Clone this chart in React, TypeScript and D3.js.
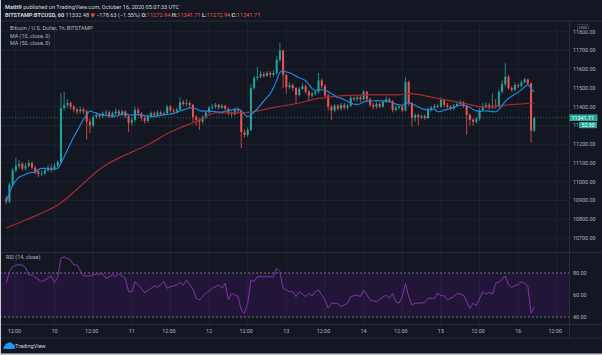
import React from "react";
import * as d3 from "d3";

// hours are counted from Oct 10 2020 00:00, one candle per hour
const firstHour = -15;
const firstOpen = 10910;

const closes = [
  10895, 10985, 11060, 11085, 11095, 11070, 11085, 11100, 11075, 11055,
  11040, 11045, 11060, 11075, 11065, 11085, 11105, 11393, 11410, 11420,
  11400, 11385, 11375, 11385, 11375, 11320, 11300, 11345, 11356, 11350,
  11365, 11370, 11350, 11365, 11375, 11360, 11375, 11350, 11315, 11330,
  11383, 11365, 11340, 11325, 11350, 11365, 11355, 11370, 11360, 11365,
  11400, 11380, 11375, 11385, 11425, 11415, 11420, 11410, 11345, 11330,
  11320, 11345, 11370, 11395, 11400, 11410, 11395, 11405, 11390, 11365,
  11360, 11383, 11380, 11265, 11250, 11276, 11500, 11553, 11560, 11575,
  11565, 11580, 11570, 11580, 11650, 11700, 11570, 11505, 11515, 11500,
  11463, 11495, 11510, 11480, 11460, 11470, 11480, 11540, 11510, 11460,
  11400, 11380, 11405, 11390, 11410, 11395, 11405, 11447, 11440, 11450,
  11440, 11480, 11440, 11410, 11400, 11415, 11400, 11425, 11440, 11430,
  11383, 11395, 11400, 11380, 11532, 11420, 11340, 11356, 11345, 11350,
  11340, 11383, 11395, 11405, 11400, 11436, 11410, 11400, 11390, 11405,
  11415, 11425, 11405, 11356, 11330, 11320, 11335, 11383, 11400, 11410,
  11395, 11405, 11400, 11480, 11520, 11560, 11500, 11490, 11516, 11510,
  11530, 11545, 11525, 11272.94, 11341.71,
];

const highs = [
  10925, 10995, 11075, 11127, 11115, 11105, 11100, 11115, 11110, 11085,
  11065, 11060, 11075, 11090, 11095, 11100, 11115, 11473, 11480, 11440,
  11430, 11410, 11395, 11400, 11395, 11385, 11335, 11356, 11370, 11365,
  11375, 11385, 11380, 11375, 11390, 11385, 11385, 11380, 11355, 11345,
  11400, 11395, 11370, 11350, 11360, 11375, 11375, 11380, 11380, 11375,
  11410, 11410, 11390, 11395, 11450, 11435, 11440, 11430, 11415, 11355,
  11340, 11355, 11380, 11405, 11415, 11420, 11415, 11415, 11410, 11395,
  11375, 11395, 11395, 11385, 11280, 11290, 11520, 11565, 11612, 11590,
  11585, 11590, 11590, 11595, 11670, 11740, 11705, 11575, 11530, 11525,
  11505, 11505, 11525, 11520, 11490, 11480, 11490, 11580, 11550, 11520,
  11470, 11410, 11415, 11415, 11420, 11420, 11415, 11460, 11455, 11460,
  11460, 11490, 11485, 11450, 11420, 11425, 11425, 11435, 11455, 11450,
  11435, 11405, 11410, 11410, 11560, 11540, 11425, 11365, 11365, 11360,
  11360, 11395, 11405, 11415, 11415, 11450, 11440, 11420, 11410, 11415,
  11425, 11435, 11430, 11410, 11365, 11340, 11345, 11395, 11420, 11425,
  11420, 11470, 11440, 11490, 11540, 11633, 11570, 11510, 11530, 11525,
  11540, 11555, 11550, 11530, 11345,
];

const lows = [
  10880, 10885, 10975, 11050, 11070, 11060, 11060, 11075, 11065, 11040,
  11025, 11030, 11035, 11055, 11050, 11060, 11075, 11095, 11380, 11395,
  11385, 11370, 11360, 11365, 11360, 11225, 11260, 11290, 11335, 11335,
  11340, 11350, 11340, 11340, 11355, 11350, 11350, 11340, 11265, 11300,
  11320, 11355, 11325, 11310, 11315, 11340, 11345, 11345, 11350, 11350,
  11355, 11370, 11365, 11365, 11380, 11405, 11405, 11395, 11320, 11300,
  11276, 11310, 11335, 11365, 11385, 11390, 11385, 11390, 11380, 11355,
  11345, 11355, 11365, 11180, 11235, 11240, 11270, 11490, 11540, 11550,
  11555, 11560, 11555, 11560, 11570, 11640, 11500, 11470, 11495, 11485,
  11420, 11455, 11490, 11470, 11430, 11450, 11460, 11470, 11500, 11450,
  11380, 11330, 11370, 11380, 11380, 11385, 11385, 11400, 11430, 11430,
  11425, 11435, 11430, 11400, 11385, 11390, 11390, 11395, 11420, 11420,
  11370, 11375, 11385, 11370, 11375, 11405, 11293, 11320, 11300, 11335,
  11330, 11335, 11375, 11385, 11390, 11395, 11400, 11390, 11380, 11380,
  11400, 11410, 11395, 11250, 11300, 11300, 11310, 11325, 11375, 11390,
  11385, 11385, 11390, 11395, 11470, 11510, 11490, 11480, 11485, 11500,
  11505, 11525, 11515, 11207, 11265,
];

// MA 50
const ma50Hours = [-15, -9, 1, 15, 30, 36, 45, 50, 58, 69, 76, 82, 97, 107, 110, 120, 127, 133, 140, 149];
const ma50Values = [10753, 10796, 10876, 11079, 11207, 11265, 11329, 11367, 11367, 11399, 11420, 11445, 11463, 11463, 11470, 11441, 11420, 11399, 11409, 11420];

// RSI 14
const rsiHours = [
  -15, -14, -13, -12, -10, -9, -8, -7, -4, -2, -1, 0, 1, 2, 3, 5, 6, 7, 9, 11,
  13, 15, 16, 18, 19, 20, 22, 23, 24, 25, 27, 28, 30, 31, 32, 34, 35, 36, 38, 39,
  40, 41, 43, 44, 45, 47, 49, 51, 52, 53, 54, 55, 57, 58, 59, 60, 61, 62, 63, 66,
  68, 69, 70, 71, 73, 74, 75, 76, 78, 79, 80, 81, 82, 83, 84, 85, 86, 88, 89, 91,
  92, 94, 95, 96, 97, 98, 100, 101, 103, 104, 105, 106, 107, 108, 109, 110, 111, 112, 115, 116,
  118, 119, 120, 121, 122, 124, 125, 127, 129, 130, 131, 133, 134, 135, 136, 137, 138, 140, 141, 142,
  144, 145, 146, 147, 148, 149,
];
const rsiValues = [
  70.6, 81.2, 85.7, 87.3, 87.3, 85.0, 78.2, 78.2, 72.1, 75.2, 77.3, 71.2, 76.0, 93.4, 94.8, 91.8, 87.3, 87.3, 77.3, 77.3,
  79.1, 79.1, 75.2, 78.2, 76.6, 79.1, 75.2, 63.0, 63.0, 72.1, 66.1, 62.1, 66.1, 68.2, 67.0, 72.1, 66.1, 67.5, 69.1, 71.5,
  69.1, 73.6, 65.2, 57.0, 55.5, 61.5, 66.1, 69.1, 66.1, 70.6, 55.5, 61.5, 58.5, 46.4, 43.4, 52.5, 73.6, 72.1, 76.6, 76.6,
  76.6, 84.3, 81.2, 66.1, 63.0, 63.0, 58.5, 63.0, 58.5, 61.5, 59.1, 63.0, 64.5, 60.0, 55.5, 47.9, 52.5, 52.5, 49.4, 52.5,
  58.5, 60.0, 58.5, 64.5, 60.0, 55.5, 53.9, 56.0, 60.0, 57.0, 61.5, 53.9, 52.5, 58.5, 70.6, 58.5, 50.9, 52.5, 53.0, 57.0,
  57.0, 61.5, 59.4, 59.4, 55.5, 58.5, 61.5, 60.0, 47.9, 52.5, 50.3, 63.0, 60.6, 62.5, 60.6, 70.6, 71.5, 77.3, 69.1, 67.0,
  69.7, 72.1, 70.5, 68.0, 43.4, 48.8,
];

const priceTicks = [10700, 10800, 10900, 11000, 11100, 11200, 11300, 11400, 11500, 11600, 11700, 11800];
const rsiTicks = [80, 60, 40];
const rsiBands = [80, 40];
const timeTickHours = [-12, 0, 12, 24, 36, 48, 60, 72, 84, 96, 108, 120, 132, 144, 156];
const timeTickLabels = ["12:00", "10", "12:00", "11", "12:00", "12", "12:00", "13", "12:00", "14", "12:00", "15", "12:00", "16", "12:00"];

const BG = "#131722";
const UP = "#26a69a";
const DOWN = "#ef5350";
const TXT = "#b2b5be";
const GRID = "#1d2130";
const LINE = "#2a2e39";
const FONT = "Roboto, 'DejaVu Sans', sans-serif";

const App = () => {
  const W = 602;
  const H = 355;
  const axisX = 569.5;
  const x = d3.scaleLinear().domain([0, 24]).range([54.5, 131.78]);
  const y = d3.scaleLinear().domain([10700, 11700]).range([238, 50.5]);
  const yR = d3.scaleLinear().domain([40, 80]).range([317, 273]);

  const candles = closes.map((c, i) => ({
    h: firstHour + i,
    o: i === 0 ? firstOpen : closes[i - 1],
    c,
    hi: highs[i],
    lo: lows[i],
  }));
  const ma10 = closes.map((_, i) => d3.mean(closes.slice(Math.max(0, i - 9), i + 1)) as number);

  const ma10Line = d3
    .line<number>()
    .x((_, i) => x(firstHour + i))
    .y(d => y(d))
    .curve(d3.curveMonotoneX);
  const ma50Line = d3
    .line<number>()
    .x((_, i) => x(ma50Hours[i]))
    .y(d => y(d))
    .curve(d3.curveMonotoneX);
  const rsiLine = d3
    .line<number>()
    .x((_, i) => x(rsiHours[i]))
    .y(d => yR(d));

  const last = closes[closes.length - 1];
  const bodyW = 2;
  const fmt = d3.format(".2f");

  return (
    <svg width={W} height={H} style={{ display: "block", fontFamily: FONT }}>
      <style>{`body{margin:0;background:${BG}}`}</style>
      <defs>
        <clipPath id="underCountdown">
          <rect x={570} y={0} width={8.5} height={H} />
        </clipPath>
      </defs>
      <rect x={0} y={0} width={W} height={H} fill={BG} />

      {/* header */}
      <text x={5} y={9} fontSize={5.6} fill="#d1d4dc">
        <tspan fontWeight="bold">Mattt9</tspan>
        <tspan> published on TradingView.com, October 16, 2020 05:07:33 UTC</tspan>
      </text>
      <text x={5} y={17.2} fontSize={5.6} fill="#d1d4dc">
        <tspan fontWeight="bold">BITSTAMP:BTCUSD, 60 </tspan>
        <tspan> 11332.48 </tspan>
        <tspan fill={DOWN}>▼</tspan>
        <tspan> −178.63 (−1.55%) </tspan>
        <tspan fontWeight="bold">O:</tspan>
        <tspan fill={DOWN}>11272.94 </tspan>
        <tspan fontWeight="bold">H:</tspan>
        <tspan fill={DOWN}>11341.71 </tspan>
        <tspan fontWeight="bold">L:</tspan>
        <tspan fill={DOWN}>11272.94 </tspan>
        <tspan fontWeight="bold">C:</tspan>
        <tspan fill={DOWN}>11341.71</tspan>
      </text>
      <line x1={0} x2={W} y1={21} y2={21} stroke={LINE} />

      {/* grid */}
      {timeTickHours.map(h => (
        <line key={"vg" + h} x1={x(h)} x2={x(h)} y1={21} y2={324} stroke={GRID} />
      ))}
      {priceTicks.map(p => (
        <line key={"hg" + p} x1={0} x2={axisX} y1={y(p)} y2={y(p)} stroke={GRID} />
      ))}

      {/* legend */}
      <g fontSize={5.4} fill={TXT}>
        <text x={10} y={30}>Bitcoin / U.S. Dollar, 1h, BITSTAMP</text>
        <text x={10} y={37.5}>MA (10, close, 0)</text>
        <text x={10} y={45}>MA (50, close, 0)</text>
      </g>

      {/* last price line */}
      <line x1={0} x2={axisX} y1={y(last)} y2={y(last)} stroke={UP} strokeOpacity={0.6} strokeDasharray="1,2" />

      {/* candles */}
      {candles.map(d => {
        const col = d.c >= d.o ? UP : DOWN;
        const top = y(Math.max(d.o, d.c));
        const bot = y(Math.min(d.o, d.c));
        const cx = x(d.h);
        return (
          <g key={d.h}>
            <line x1={cx} x2={cx} y1={y(d.hi)} y2={y(d.lo)} stroke={col} strokeWidth={0.8} />
            <rect x={cx - bodyW / 2} y={top} width={bodyW} height={Math.max(0.8, bot - top)} fill={col} />
          </g>
        );
      })}

      <path d={ma50Line(ma50Values) || ""} fill="none" stroke="#a82a2e" strokeWidth={1.2} />
      <path d={ma10Line(ma10) || ""} fill="none" stroke="#2585db" strokeWidth={1.2} />

      {/* RSI pane */}
      <line x1={0} x2={W} y1={252.5} y2={252.5} stroke={LINE} strokeWidth={1.2} />
      <rect x={0} y={yR(rsiBands[0])} width={axisX} height={yR(rsiBands[1]) - yR(rsiBands[0])} fill="#9915ff" fillOpacity={0.1} />
      {rsiBands.map(b => (
        <line key={"b" + b} x1={0} x2={axisX} y1={yR(b)} y2={yR(b)} stroke="#787b86" strokeDasharray="2,2" />
      ))}
      <path d={rsiLine(rsiValues) || ""} fill="none" stroke="#8236a6" strokeWidth={1} />
      <text x={6} y={259} fontSize={5.4} fill={TXT}>RSI (14, close)</text>

      {/* price axis */}
      <line x1={axisX} x2={axisX} y1={21} y2={338} stroke={LINE} />
      <g fontSize={5.4} fill={TXT}>
        {priceTicks.map(p => (
          <text
            key={"pt" + p}
            x={573}
            y={y(p)}
            dy="0.35em"
            clipPath={Math.abs(y(p) - y(last) - 7.4) < 4 ? "url(#underCountdown)" : undefined}
          >
            {fmt(p)}
          </text>
        ))}
        {rsiTicks.map(v => (
          <text key={"rt" + v} x={573} y={yR(v)} dy="0.35em">{fmt(v)}</text>
        ))}
      </g>
      <rect x={577.5} y={24.5} width={11} height={6} rx={1.5} fill={BG} stroke="#50535e" strokeWidth={0.6} />
      <text x={583} y={27.5} dy="0.35em" fontSize={4.2} fill={TXT} textAnchor="middle">USD</text>
      <rect x={axisX} y={y(last) - 3.3} width={28} height={6.6} fill={UP} />
      <text x={571.5} y={y(last)} dy="0.35em" fontSize={5.4} fill="#ffffff">{fmt(last)}</text>
      <rect x={579} y={y(last) + 4.3} width={18} height={6.2} fill={UP} />
      <text x={588} y={y(last) + 7.4} dy="0.35em" fontSize={5.2} fill="#ffffff" textAnchor="middle">52:30</text>

      {/* time axis */}
      <line x1={0} x2={W} y1={324.5} y2={324.5} stroke={LINE} />
      <line x1={0} x2={W} y1={338} y2={338} stroke={LINE} />
      <g fontSize={5.4} fill={TXT} textAnchor="middle">
        {timeTickHours.map((h, i) => (
          <text key={"tt" + h} x={x(h) - (timeTickLabels[i].length > 2 ? 1.5 : 0)} y={331.5} dy="0.35em">
            {timeTickLabels[i]}
          </text>
        ))}
      </g>

      {/* footer logo */}
      <path
        d="M5,349 h8 a2.2,2.2 0 0 0 0,-4.4 a3,3 0 0 0 -5.2,-1.2 a2.3,2.3 0 0 0 -2.8,2.4 a1.6,1.6 0 0 0 0,3.2 z"
        fill="#2196f3"
      />
      <text x={15} y={346.5} dy="0.35em" fontSize={5.6} fill="#d1d4dc">TradingView</text>

      <line x1={0.5} x2={0.5} y1={0} y2={H} stroke="#c9ccd3" />
      <line x1={0} x2={W} y1={H - 0.75} y2={H - 0.75} stroke="#c9ccd3" strokeWidth={1.5} />
    </svg>
  );
};

export default App;
